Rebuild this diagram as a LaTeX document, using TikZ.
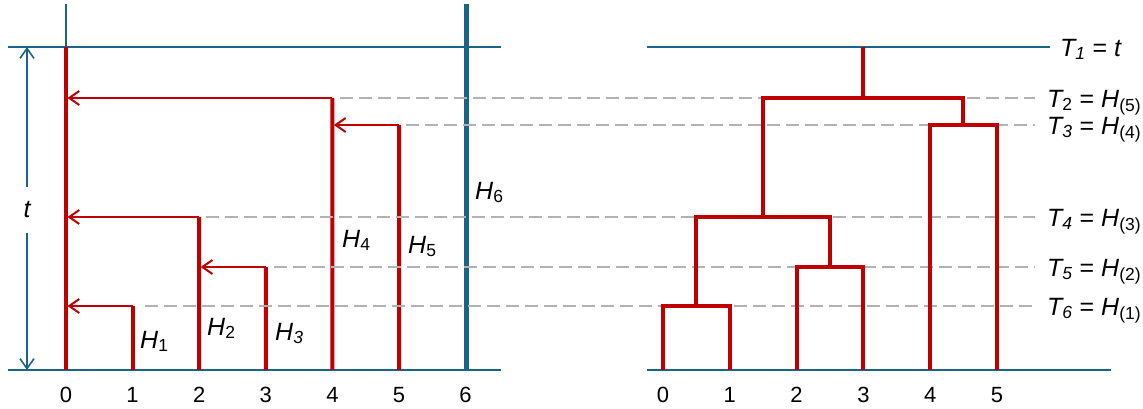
\documentclass[tikz,border=0pt]{standalone}
\usepackage{fontspec}
\setmainfont{Liberation Sans}
\usetikzlibrary{arrows.meta}
\definecolor{axisblue}{HTML}{1B6489}
\definecolor{treered}{HTML}{C00000}
\definecolor{guidegray}{HTML}{B2B2B2}

\begin{document}
\begin{tikzpicture}[
    x=1pt,y=-1pt,
    font=\fontsize{22}{26}\selectfont,
    axis/.style={axisblue,line width=2pt},
    branch/.style={treered,line width=4pt},
    link/.style={treered,line width=2pt,shorten >=1.5pt,
                 -{Straight Barb[length=10pt,width=14pt]}},
    span/.style={axisblue,line width=1.6pt,
                 -{Straight Barb[length=10pt,width=14pt]}},
    guide/.style={guidegray,line width=1.3pt,dash pattern=on 13pt off 6pt},
    lab/.style={font=\fontsize{25}{29}\selectfont\itshape,anchor=base west,inner sep=0pt},
    tick/.style={anchor=base,inner sep=0pt}
  ]
    \useasboundingbox (0,0) rectangle (1143,408);

    % left panel: axes
    \coordinate (ltop) at (66,47);
    \draw[axis] (8,47) -- (501,47);
    \draw[axis] (8,370) -- (501,370);
    \draw[axis,line width=1.5pt] (66,4) -- (66,370);
    \draw[axis,line width=5pt] (466,4) -- (466,370);

    % left panel: lines
    \foreach \i in {0,...,6} {
      \coordinate (b\i) at ({66+66.6*\i},370);
      \node[tick] (x\i) at ({66+66.6*\i},402) {\i};
    }
    \coordinate (h1) at (132.6,306);
    \coordinate (h2) at (199.2,217);
    \coordinate (h3) at (265.8,267);
    \coordinate (h4) at (332.4,98);
    \coordinate (h5) at (399,125);
    \draw[branch,line width=3.2pt] (b0) -- (ltop);
    \foreach \i in {1,...,5}
      \draw[branch] (b\i) -- (h\i);
    \draw[link] (h1) -- (b0 |- h1);
    \draw[link] (h2) -- (b0 |- h2);
    \draw[link] (h3) -- (b2 |- h3);
    \draw[link] (h4) -- (b0 |- h4);
    \draw[link] (h5) -- (b4 |- h5);

    % t
    \node[font=\fontsize{25}{29}\selectfont\itshape,minimum height=45pt,inner sep=0pt]
      (tlab) at (27,210) {t};
    \coordinate (tup) at (27,47);
    \coordinate (tdown) at (27,370);
    \draw[span] (tlab.north) -- (tup);
    \draw[span] (tlab.south) -- (tdown);

    \node[lab] (H1) at (140,348) {H\textsubscript{\upshape 1}};
    \node[lab] (H2) at (207,335) {H\textsubscript{\upshape 2}};
    \node[lab] (H3) at (275,340) {H\textsubscript{3}};
    \node[lab] (H4) at (342,247) {H\textsubscript{\upshape 4}};
    \node[lab] (H5) at (408,253) {H\textsubscript{\upshape 5}};
    \node[lab] (H6) at (475,199) {H\textsubscript{\upshape 6}};

    % guides
    \foreach \src/\dx/\y in {h4/8/98, h5/7/125, h2/7/217, h3/8/267, h1/12/306}
      \draw[guide] ([xshift=\dx pt]\src) -- (1035,\y);

    % right panel: axes
    \draw[axis] (647,47) -- (1050,47);
    \draw[axis] (647,370) -- (1111,370);
    \foreach \i in {0,...,5} {
      \coordinate (r\i) at ({663+66.8*\i},370);
      \node[tick] (y\i) at ({663+66.8*\i},402) {\i};
    }

    % right panel: tree
    \coordinate (m01) at (696.4,306);
    \coordinate (m23) at (830,267);
    \coordinate (m0123) at (763.2,217);
    \coordinate (m45) at (963.4,125);
    \coordinate (mall) at (863.3,98);
    \coordinate (root) at (863.3,47);
    \begin{scope}[branch]
      \draw (r0) |- (m01) -| (r1);
      \draw (r2) |- (m23) -| (r3);
      \draw (m01) |- (m0123) -| (m23);
      \draw (r4) |- (m45) -| (r5);
      \draw (m0123) |- (mall) -| (m45);
      \draw (mall) -- (root);
    \end{scope}

    \node[lab] (T1) at (1060,56) {T\textsubscript{1} \upshape= \itshape t};
    \node[lab] (T2) at (1047,107) {T\textsubscript{\upshape 2} \upshape= \itshape H\textsubscript{\upshape (5)}};
    \node[lab] (T3) at (1047,134) {T\textsubscript{3} \upshape= \itshape H\textsubscript{\upshape (4)}};
    \node[lab] (T4) at (1047,226) {T\textsubscript{4} \upshape= \itshape H\textsubscript{\upshape (3)}};
    \node[lab] (T5) at (1047,276) {T\textsubscript{5} \upshape= \itshape H\textsubscript{\upshape (2)}};
    \node[lab] (T6) at (1047,315) {T\textsubscript{6} \upshape= \itshape H\textsubscript{\upshape (1)}};
  \end{tikzpicture}
\end{document}
